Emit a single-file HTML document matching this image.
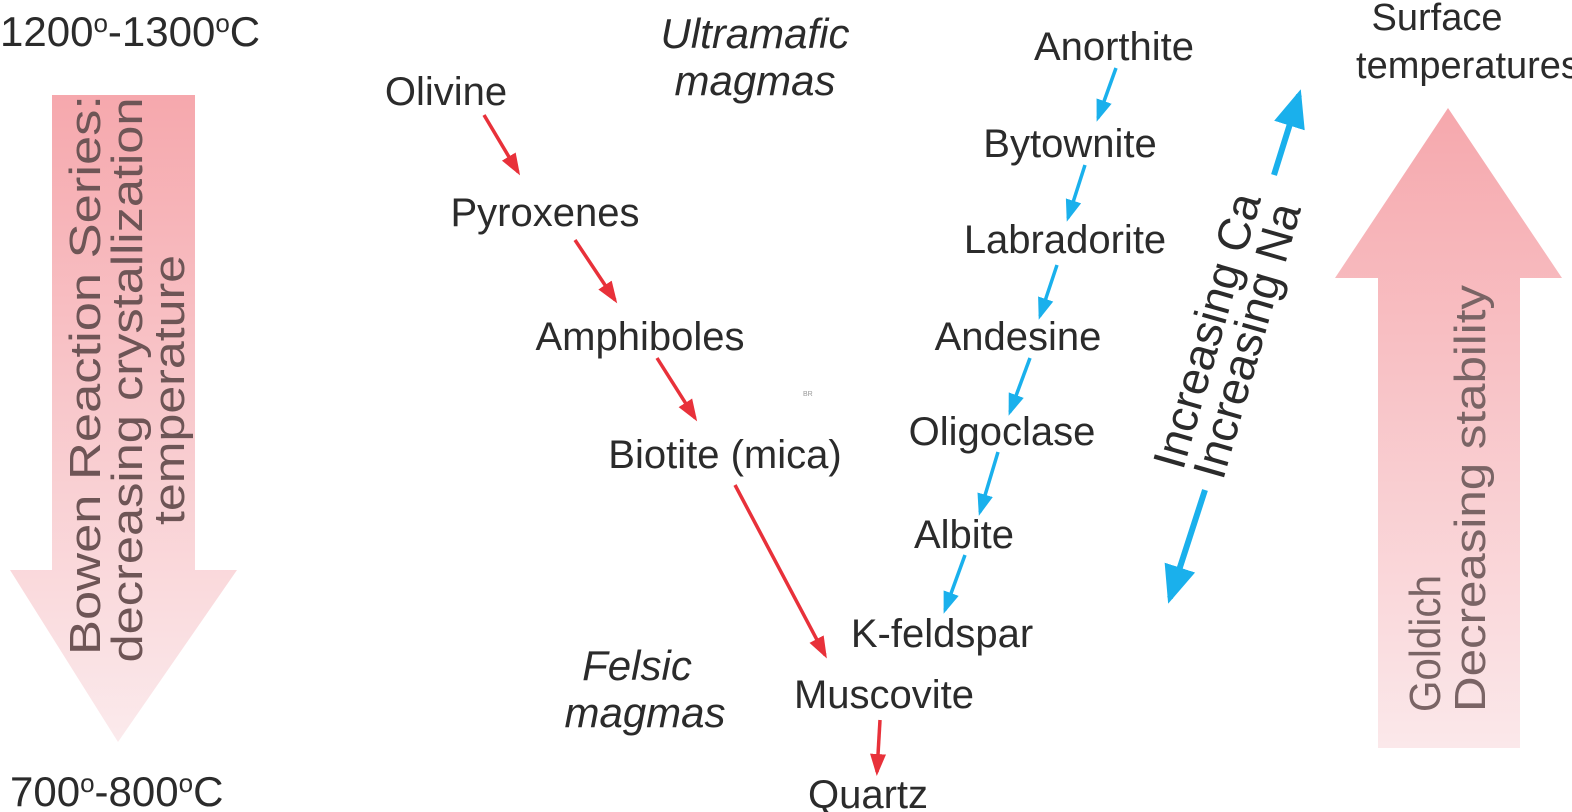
<!DOCTYPE html>
<html><head><style>html,body{margin:0;padding:0;background:#fff}svg{display:block}text{font-family:"Liberation Sans",Arial,sans-serif;fill:#2b2b2b}</style></head>
<body>
<svg width="1572" height="812" viewBox="0 0 1572 812" xmlns="http://www.w3.org/2000/svg">
<defs>
<linearGradient id="g1" x1="0" y1="0" x2="0" y2="1"><stop offset="0" stop-color="#f6a8ad"/><stop offset="1" stop-color="#fbeaec"/></linearGradient>
<linearGradient id="g2" x1="0" y1="0" x2="0" y2="1"><stop offset="0" stop-color="#f6a8ad"/><stop offset="1" stop-color="#fbe8ea"/></linearGradient>
<marker id="r" markerWidth="22" markerHeight="18" refX="18" refY="9" orient="auto" markerUnits="userSpaceOnUse"><path d="M0,1 L22,9 L0,17 z" fill="#e8313a"/></marker>
<marker id="b" markerWidth="22" markerHeight="18" refX="18" refY="9" orient="auto" markerUnits="userSpaceOnUse"><path d="M0,1 L22,9 L0,17 z" fill="#1ab0ec"/></marker>
<marker id="bb" markerWidth="38" markerHeight="34" refX="32" refY="17" orient="auto" markerUnits="userSpaceOnUse"><path d="M0,1 L38,17 L0,33 z" fill="#1ab0ec"/></marker>
</defs>
<polygon points="52,95 195,95 195,570 237,570 118,742 10,570 52,570" fill="url(#g1)"/>
<polygon points="1378,748 1520,748 1520,278 1562,278 1448,108 1335,278 1378,278" fill="url(#g2)"/>
<g font-size="44">
<text transform="translate(100,375) rotate(-90)" text-anchor="middle" textLength="560" lengthAdjust="spacingAndGlyphs" style="fill:#6e5556">Bowen Reaction Series:</text>
<text transform="translate(142,380) rotate(-90)" text-anchor="middle" textLength="565" lengthAdjust="spacingAndGlyphs" style="fill:#6e5556">decreasing crystallization</text>
<text transform="translate(184,390) rotate(-90)" text-anchor="middle" textLength="270" lengthAdjust="spacingAndGlyphs" style="fill:#6e5556">temperature</text>
<text transform="translate(1440,712) rotate(-90)" textLength="137" lengthAdjust="spacingAndGlyphs" style="fill:#7a6465">Goldich</text>
<text transform="translate(1485,712) rotate(-90)" textLength="427" lengthAdjust="spacingAndGlyphs" style="fill:#7a6465">Decreasing stability</text>
</g>
<g font-size="40">
<text x="0" y="46" font-size="42">1200<tspan font-size="26" dy="-14">o</tspan><tspan dy="14">-1300</tspan><tspan font-size="26" dy="-14">o</tspan><tspan dy="14">C</tspan></text>
<text x="10" y="806" font-size="42">700<tspan font-size="26" dy="-14">o</tspan><tspan dy="14">-800</tspan><tspan font-size="26" dy="-14">o</tspan><tspan dy="14">C</tspan></text>
<text x="1437" y="30" text-anchor="middle" font-size="38">Surface</text>
<text x="1468" y="78" text-anchor="middle" font-size="38">temperatures</text>
<text x="755" y="48" text-anchor="middle" font-style="italic" font-size="42">Ultramafic</text>
<text x="755" y="95" text-anchor="middle" font-style="italic" font-size="42">magmas</text>
<text x="637" y="680" text-anchor="middle" font-style="italic" font-size="42">Felsic</text>
<text x="645" y="727" text-anchor="middle" font-style="italic" font-size="42">magmas</text>
<text x="446" y="105" text-anchor="middle">Olivine</text>
<text x="545" y="226" text-anchor="middle">Pyroxenes</text>
<text x="640" y="350" text-anchor="middle">Amphiboles</text>
<text x="725" y="468" text-anchor="middle">Biotite (mica)</text>
<text x="942" y="647" text-anchor="middle">K-feldspar</text>
<text x="884" y="708" text-anchor="middle">Muscovite</text>
<text x="868" y="808" text-anchor="middle">Quartz</text>
<text x="1114" y="60" text-anchor="middle">Anorthite</text>
<text x="1070" y="157" text-anchor="middle">Bytownite</text>
<text x="1065" y="253" text-anchor="middle">Labradorite</text>
<text x="1018" y="350" text-anchor="middle">Andesine</text>
<text x="1002" y="445" text-anchor="middle">Oligoclase</text>
<text x="964" y="548" text-anchor="middle">Albite</text>
</g>
<text x="803" y="396" font-size="7" style="fill:#999">BR</text>
<g stroke="#e8313a" stroke-width="3.5" fill="none" marker-end="url(#r)">
<line x1="484" y1="115" x2="518" y2="172"/>
<line x1="575" y1="240" x2="615" y2="300"/>
<line x1="657" y1="358" x2="695" y2="418"/>
<line x1="735" y1="485" x2="825" y2="655"/>
<line x1="880" y1="720" x2="877" y2="772"/>
</g>
<g stroke="#1ab0ec" stroke-width="3.5" fill="none" marker-end="url(#b)">
<line x1="1116" y1="68" x2="1098" y2="118"/>
<line x1="1085" y1="165" x2="1068" y2="218"/>
<line x1="1057" y1="265" x2="1040" y2="316"/>
<line x1="1030" y1="358" x2="1010" y2="412"/>
<line x1="998" y1="452" x2="980" y2="512"/>
<line x1="965" y1="555" x2="945" y2="610"/>
</g>
<g stroke="#1ab0ec" stroke-width="6" fill="none" marker-end="url(#bb)">
<line x1="1274" y1="175" x2="1299" y2="95"/>
<line x1="1205" y1="490" x2="1170" y2="598"/>
</g>
<g font-size="46">
<text transform="translate(1222,335) rotate(-74)" text-anchor="middle">Increasing Ca</text>
<text transform="translate(1262,345) rotate(-74)" text-anchor="middle">Increasing Na</text>
</g>
</svg>
</body></html>
